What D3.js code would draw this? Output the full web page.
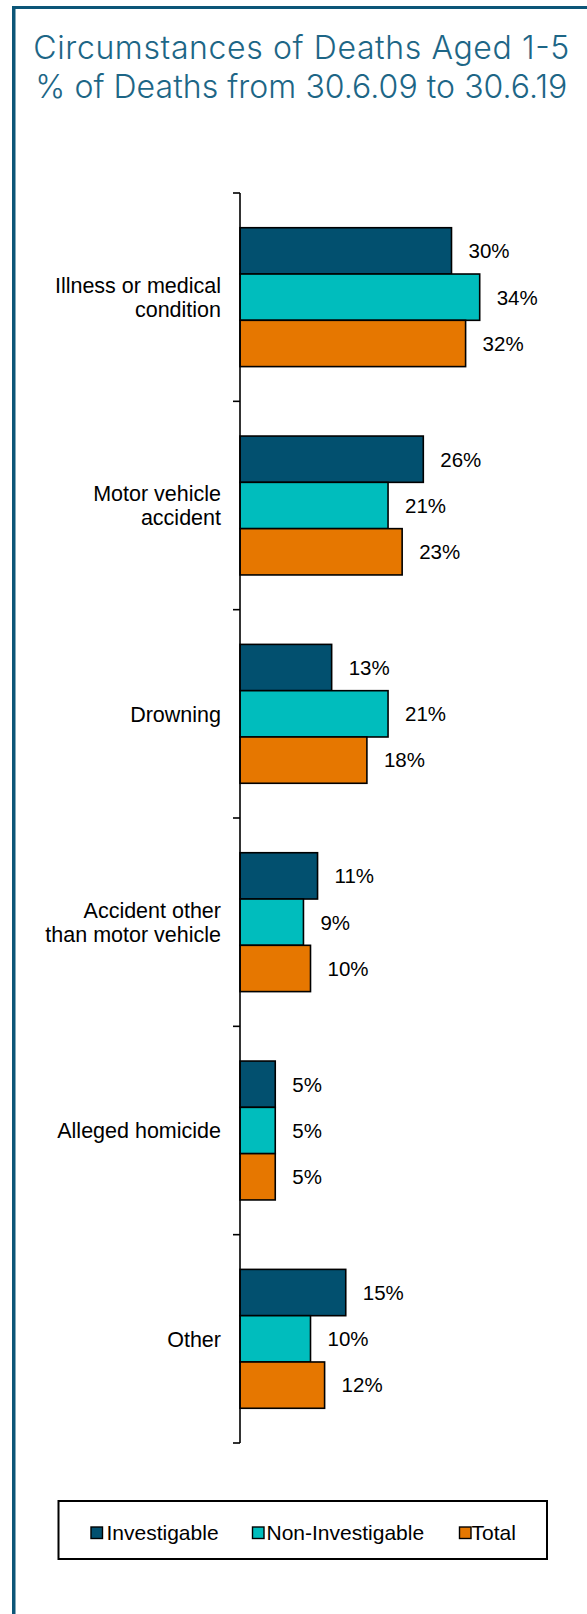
<!DOCTYPE html>
<html>
<head>
<meta charset="utf-8">
<script src="https://cdn.jsdelivr.net/npm/d3@7"></script>
<style>
  html, body { margin: 0; padding: 0; background: #ffffff; }
  svg { display: block; }
</style>
</head>
<body>
<div id="chart"></div>
<script>
// Circumstances of deaths, children aged 1-5, grouped horizontal bars
const titleLines = ["Circumstances of Deaths Aged 1-5", "% of Deaths from 30.6.09 to 30.6.19"];
const categories = [
  "Illness or medical condition",
  "Motor vehicle accident",
  "Drowning",
  "Accident other than motor vehicle",
  "Alleged homicide",
  "Other"
];
const categoryLines = [
  ["Illness or medical", "condition"],
  ["Motor vehicle", "accident"],
  ["Drowning"],
  ["Accident other", "than motor vehicle"],
  ["Alleged homicide"],
  ["Other"]
];
const seriesNames = ["Investigable", "Non-Investigable", "Total"];
const investigable = [30, 26, 13, 11, 5, 15];
const nonInvestigable = [34, 21, 21, 9, 5, 10];
const total = [32, 23, 18, 10, 5, 12];
const seriesColors = ["#02506F", "#00BDBD", "#E67700"];

const seriesValues = [investigable, nonInvestigable, total];

const W = 587, H = 1614;
const svg = d3.select("#chart").append("svg")
  .attr("width", W).attr("height", H);

// frame: top and left rules
const frameColor = "#0C5678";
svg.append("rect").attr("x", 12).attr("y", 6).attr("width", W - 12).attr("height", 3).attr("fill", frameColor);
svg.append("rect").attr("x", 12).attr("y", 6).attr("width", 3.5).attr("height", H - 6).attr("fill", frameColor);

// title, each line stretched to its set width
const titleWidths = [536, 532];
titleLines.forEach((t, i) => {
  svg.append("text")
    .attr("x", 301.3).attr("y", 59.3 + i * 39)
    .attr("text-anchor", "middle")
    .attr("font-family", "Inter, Lato, sans-serif")
    .attr("font-weight", 300)
    .attr("font-size", 32)
    .attr("textLength", titleWidths[i])
    .attr("lengthAdjust", "spacing")
    .attr("fill", "#1D6686")
    .text(t);
});

// scales
const y0 = d3.scaleBand().domain(categories).range([193, 1443]).padding(0);
const y1 = d3.scaleBand().domain(seriesNames).range([0, y0.bandwidth()])
  .paddingInner(0).paddingOuter(0.75);
const x = d3.scaleLinear().domain([0, 40]).range([240, 522]);

const font = "'Liberation Sans', Arial, sans-serif";

// bars and value labels
const groups = svg.append("g").selectAll("g")
  .data(categories)
  .join("g")
  .attr("transform", d => `translate(0,${y0(d)})`);

groups.each(function (cat, ci) {
  const g = d3.select(this);
  seriesNames.forEach((s, si) => {
    const v = seriesValues[si][ci];
    g.append("rect")
      .attr("x", x(0))
      .attr("y", y1(s))
      .attr("width", x(v) - x(0))
      .attr("height", y1.bandwidth())
      .attr("fill", seriesColors[si])
      .attr("stroke", "#000")
      .attr("stroke-width", 1.6);
    g.append("text")
      .attr("x", x(v) + 17)
      .attr("y", y1(s) + y1.bandwidth() / 2)
      .attr("dy", "0.36em")
      .attr("font-family", font)
      .attr("font-size", 20.5)
      .attr("fill", "#000")
      .text(v + "%");
  });
});

// category axis
const axis = svg.append("g")
  .attr("transform", `translate(${x(0)},0)`);
axis.append("line")
  .attr("x1", 0).attr("x2", 0)
  .attr("y1", y0.range()[0]).attr("y2", y0.range()[1])
  .attr("stroke", "#000").attr("stroke-width", 1.6);
const boundaries = categories.map(c => y0(c)).concat([y0.range()[1]]);
axis.selectAll("line.tick")
  .data(boundaries)
  .join("line")
  .attr("class", "tick")
  .attr("x1", -7).attr("x2", 0)
  .attr("y1", d => d).attr("y2", d => d)
  .attr("stroke", "#000").attr("stroke-width", 1.6);

// category labels
const lineH = 23.5;
categories.forEach((c, ci) => {
  const lines = categoryLines[ci];
  const cy = y0(c) + y0.bandwidth() / 2;
  const t = svg.append("text")
    .attr("text-anchor", "end")
    .attr("font-family", font)
    .attr("font-size", 21.5)
    .attr("fill", "#000");
  lines.forEach((ln, li) => {
    t.append("tspan")
      .attr("x", 221)
      .attr("y", cy + (li - (lines.length - 1) / 2) * lineH)
      .attr("dy", "0.36em")
      .text(ln);
  });
});

// legend
const legend = svg.append("g");
legend.append("rect")
  .attr("x", 58.5).attr("y", 1501).attr("width", 488.5).attr("height", 58)
  .attr("fill", "#fff").attr("stroke", "#000").attr("stroke-width", 2);
const swatchX = [91, 252.5, 459.5];
const labelX = [106.5, 266.5, 471.5];
seriesNames.forEach((s, si) => {
  legend.append("rect")
    .attr("x", swatchX[si]).attr("y", 1527)
    .attr("width", 11.5).attr("height", 11.5)
    .attr("fill", seriesColors[si])
    .attr("stroke", "#000").attr("stroke-width", 1.4);
  legend.append("text")
    .attr("x", labelX[si])
    .attr("y", 1532.5)
    .attr("dy", "0.36em")
    .attr("font-family", font)
    .attr("font-size", 21)
    .attr("fill", "#000")
    .text(s);
});
</script>
</body>
</html>
